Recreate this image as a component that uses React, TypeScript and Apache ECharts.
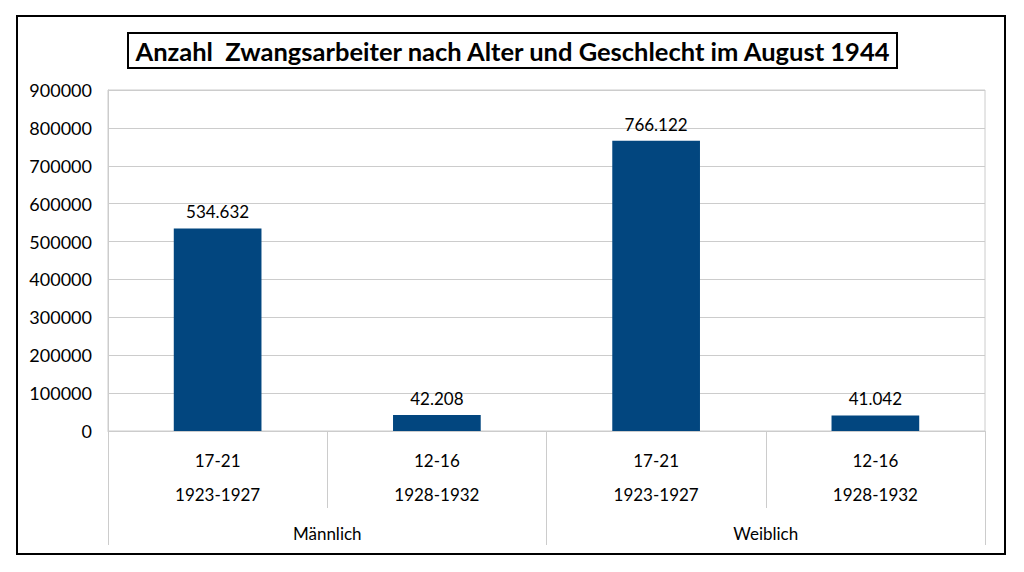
import React, { useEffect, useRef } from "react";
import * as echarts from "echarts";

const ages = ["17-21", "12-16", "17-21", "12-16"];
const birthYears = ["1923-1927", "1928-1932", "1923-1927", "1928-1932"];
const genders = ["Männlich", "Weiblich"];
const values = [534632, 42208, 766122, 41042];
const titleText = "Anzahl  Zwangsarbeiter nach Alter und Geschlecht im August 1944";

const FONT = "Lato, 'Open Sans', sans-serif";
const GRID = "#cccccc";

function fmt(v: number): string {
  return String(v).replace(/\B(?=(\d{3})+(?!\d))/g, ".");
}

export default function App() {
  const ref = useRef<HTMLDivElement>(null);
  useEffect(() => {
    if (!ref.current) return;
    const chart = echarts.init(ref.current, null, { renderer: "svg" });
    chart.setOption({
      animation: false,
      backgroundColor: "#ffffff",
      textStyle: { fontFamily: FONT },
      graphic: [
        {
          type: "rect",
          z: -10,
          shape: { x: 17, y: 16, width: 988, height: 538 },
          style: { fill: "#ffffff", stroke: "#000000", lineWidth: 2 },
          silent: true,
        },
        {
          type: "rect",
          z: 10,
          shape: { x: 128, y: 33, width: 769, height: 35 },
          style: { fill: "none", stroke: "#000000", lineWidth: 2 },
          silent: true,
        },
        {
          type: "text",
          z: 11,
          x: 512.5,
          y: 51,
          style: {
            text: titleText,
            fill: "#000000",
            font: "bold 25.5px " + FONT,
            align: "center",
            verticalAlign: "middle",
          },
        },
      ],
      grid: {
        left: 108,
        right: 39,
        top: 90,
        bottom: 141,
        show: true,
        borderColor: GRID,
        borderWidth: 1,
        containLabel: false,
      },
      xAxis: [
        {
          type: "category",
          data: ages.map((_, i) => String(i)),
          position: "bottom",
          axisLine: { show: true, lineStyle: { color: GRID, width: 1 } },
          axisTick: { show: true, interval: 0, length: 77, lineStyle: { color: GRID } },
          axisLabel: {
            interval: 0,
            margin: 12,
            color: "#000000",
            fontSize: 17,
            lineHeight: 34,
            fontFamily: FONT,
            formatter: (_v: string, i: number) => ages[i] + "\n" + birthYears[i],
          },
        },
        {
          type: "category",
          data: genders,
          position: "bottom",
          axisLine: { show: false },
          axisTick: { show: true, interval: 0, length: 114, lineStyle: { color: GRID } },
          axisLabel: {
            interval: 0,
            margin: 92,
            color: "#000000",
            fontSize: 17,
            lineHeight: 20,
            fontFamily: FONT,
          },
        },
      ],
      yAxis: {
        type: "value",
        min: 0,
        max: 900000,
        interval: 100000,
        axisLine: { show: true, lineStyle: { color: GRID } },
        axisTick: { show: false },
        splitLine: { show: true, lineStyle: { color: GRID, width: 1 } },
        axisLabel: {
          margin: 16,
          color: "#000000",
          fontSize: 18,
          fontFamily: FONT,
          formatter: (v: number) => String(v),
        },
      },
      series: [
        {
          type: "bar",
          xAxisIndex: 0,
          data: values,
          barWidth: "40%",
          itemStyle: { color: "#02467f" },
          label: {
            show: true,
            position: "top",
            distance: 8,
            color: "#000000",
            fontSize: 17,
            fontFamily: FONT,
            formatter: (p: any) => fmt(p.value),
          },
        },
      ],
    });
    return () => chart.dispose();
  }, []);
  return (
    <div
      ref={ref}
      style={{ position: "fixed", left: 0, top: 0, width: 1024, height: 572 }}
    />
  );
}
